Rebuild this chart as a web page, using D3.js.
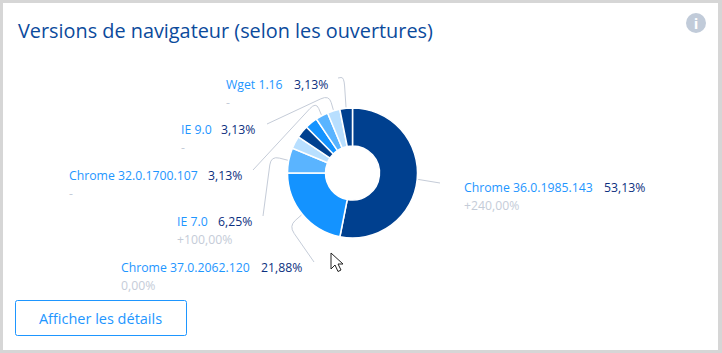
<!DOCTYPE html>
<html>
<head>
<meta charset="utf-8">
<script src="https://cdn.jsdelivr.net/npm/d3@7"></script>
<style>
  html, body { margin: 0; padding: 0; background: #fff; }
  svg { display: block; }
  text { font-family: "Open Sans", sans-serif; }
</style>
</head>
<body>
<div id="drawing"></div>
<script>
const width = 722;
const height = 353;

// values, in pie order (clockwise from 12 o'clock)
const browsers = ["Chrome 36.0.1985.143", "Chrome 37.0.2062.120", "IE 7.0", "", "", "", "Chrome 32.0.1700.107", "IE 9.0", "Wget 1.16"];
const shares = [53.13, 21.88, 6.25, 3.13, 3.13, 3.13, 3.13, 3.13, 3.13];
const shareLabels = ["53,13%", "21,88%", "6,25%", "", "", "", "3,13%", "3,13%", "3,13%"];
const changes = ["+240,00%", "0,00%", "+100,00%", "", "", "", "-", "-", "-"];
const palette = ["#00408f", "#1493ff", "#5ab4ff", "#b8dfff"];

// layout of the callouts, keyed by slice index
const callouts = {
  0: {x: 464, pctX: 604, y: 192, elbow: null, end: [440, 183]},
  1: {x: 121, pctX: 261, y: 272, elbow: [289, 226], end: [314, 262]},
  2: {x: 177, pctX: 218, y: 226, elbow: [271, 156], end: [263, 216]},
  6: {x: 69, pctX: 208, y: 180, elbow: [316, 102], end: [253, 170]},
  7: {x: 181, pctX: 221, y: 134, elbow: [329, 95], end: [267, 124]},
  8: {x: 226, pctX: 294, y: 89, elbow: [344, 77], end: [338, 78]}
};

const cx = 352.5;
const cy = 173;
const outer = 65;
const inner = 27;

const svg = d3.select("#drawing").append("svg")
  .attr("width", width)
  .attr("height", height)
  .style("background", "#d6d6d6");

// card
svg.append("rect")
  .attr("x", 3).attr("y", 3)
  .attr("width", 715).attr("height", 347)
  .attr("fill", "#fff");

svg.append("text")
  .attr("x", 18).attr("y", 38)
  .attr("font-size", 19.85)
  .attr("fill", "#0b4a9c")
  .text("Versions de navigateur (selon les ouvertures)");

// info icon
const info = svg.append("g").attr("transform", "translate(696,23)");
info.append("circle").attr("r", 10).attr("fill", "#c1cbd9");
info.append("text")
  .attr("text-anchor", "middle").attr("y", 5.5)
  .attr("font-size", 15).attr("font-weight", 700)
  .attr("fill", "#fff").text("i");

// donut
const color = d3.scaleOrdinal(d3.range(shares.length), palette);
const pie = d3.pie().sort(null).value(d => d);
const arcs = pie(shares);
const arc = d3.arc().innerRadius(inner).outerRadius(outer);
const chart = svg.append("g").attr("transform", `translate(${cx},${cy})`);

chart.selectAll(".slice")
  .data(arcs)
  .enter()
  .append("path")
    .attr("class", "slice")
    .attr("d", arc)
    .attr("fill", (d, i) => color(i))
    .attr("stroke", "#fff")
    .attr("stroke-width", 1.5);

// leader lines start on the rim of their slice, with a rounded elbow
const rim = d3.arc().innerRadius(outer + 1).outerRadius(outer + 1);

function leaderPath(start, elbow, end) {
  const path = d3.path();
  path.moveTo(start[0], start[1]);
  if (elbow) {
    const toward = (from, to, dist) => {
      const len = Math.hypot(to[0] - from[0], to[1] - from[1]);
      const t = Math.min(dist / len, 0.5);
      return [from[0] + (to[0] - from[0]) * t, from[1] + (to[1] - from[1]) * t];
    };
    const a = toward(elbow, start, 9);
    const b = toward(elbow, end, 9);
    path.lineTo(a[0], a[1]);
    path.quadraticCurveTo(elbow[0], elbow[1], b[0], b[1]);
  }
  path.lineTo(end[0], end[1]);
  return path.toString();
}

Object.keys(callouts).forEach((key) => {
  const i = +key;
  const c = callouts[i];
  const p = rim.centroid(arcs[i]);

  svg.append("path")
    .attr("d", leaderPath([p[0] + cx, p[1] + cy], c.elbow, c.end))
    .attr("fill", "none")
    .attr("stroke", "#c5ccd8")
    .attr("stroke-width", 1);

  svg.append("text")
    .attr("x", c.x).attr("y", c.y)
    .attr("font-size", 12.25)
    .attr("fill", "#1e96ff")
    .text(browsers[i]);

  svg.append("text")
    .attr("x", c.pctX).attr("y", c.y)
    .attr("font-size", 12.25)
    .attr("fill", "#0c3080")
    .text(shareLabels[i]);

  svg.append("text")
    .attr("x", c.x).attr("y", c.y + 18)
    .attr("font-size", 12.25)
    .attr("fill", "#c5ccd8")
    .text(changes[i]);
});

// button
svg.append("rect")
  .attr("x", 15.5).attr("y", 300.5)
  .attr("width", 171).attr("height", 35)
  .attr("rx", 2)
  .attr("fill", "#fff")
  .attr("stroke", "#1e96ff");

svg.append("text")
  .attr("x", 100.5).attr("y", 324)
  .attr("text-anchor", "middle")
  .attr("font-size", 14.5)
  .attr("fill", "#1e96ff")
  .text("Afficher les détails");

// mouse pointer caught in the screenshot
svg.append("path")
  .attr("d", "M331 253 V269 L335 265 L338 271.5 L341 270 L338 264 L343 264 Z")
  .attr("fill", "#fff")
  .attr("stroke", "#222")
  .attr("stroke-width", 1);
</script>
</body>
</html>
